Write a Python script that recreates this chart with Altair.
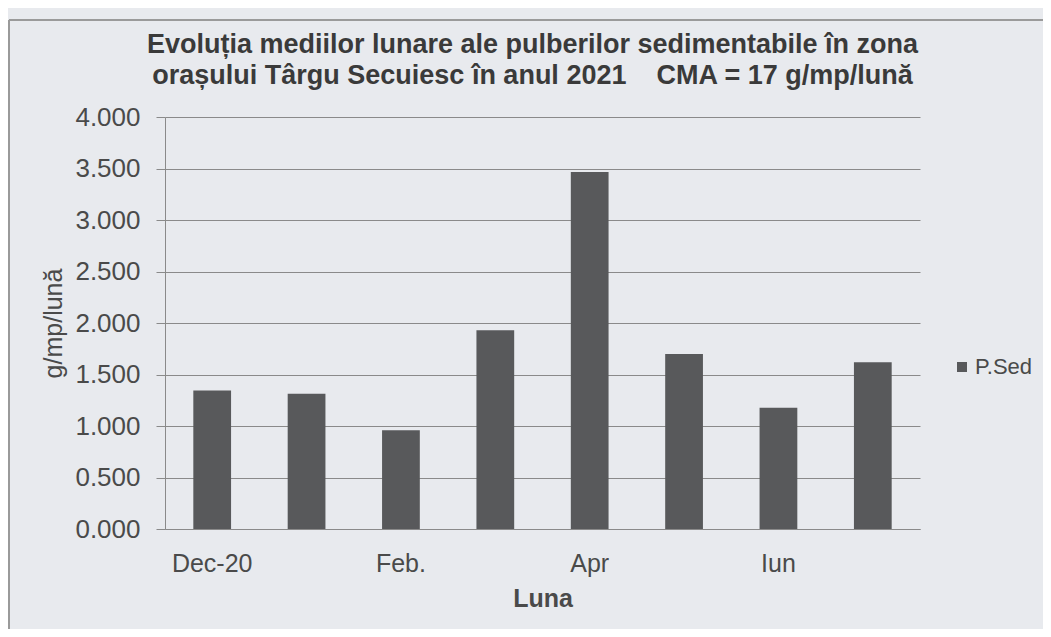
import altair as alt
import pandas as pd

months = ["Dec-20", "Ian.", "Feb.", "Mar.", "Apr", "Mai", "Iun", "Iul"]
shown_labels = ["Dec-20", "Feb.", "Apr", "Iun"]
values = [1.345, 1.313, 0.958, 1.930, 3.467, 1.700, 1.178, 1.620]
series = ["P.Sed"] * len(months)
y_ticks = [0.0, 0.5, 1.0, 1.5, 2.0, 2.5, 3.0, 3.5, 4.0]

df = pd.DataFrame({"Luna": months, "val": values, "serie": series})

BG = "#e8eaee"
TXT = "#4a4a4a"
FONT = "Liberation Sans"

label_expr = "indexof(" + str(shown_labels).replace("'", "\"") + ", datum.value) >= 0 ? datum.label : ''"

bars = alt.Chart(df).mark_bar(color="#58595b").encode(
    x=alt.X("Luna:N", sort=months,
            scale=alt.Scale(paddingInner=0.6, paddingOuter=0.3),
            axis=alt.Axis(title="Luna", labelAngle=0, labelExpr=label_expr,
                          labelFontSize=25, labelColor=TXT, labelFont=FONT,
                          labelPadding=22, ticks=False, domainColor="#8a8a8a",
                          titleFontSize=25, titleFontWeight="bold", titleColor=TXT,
                          titleFont=FONT, titlePadding=10)),
    y=alt.Y("val:Q", scale=alt.Scale(domain=[0, 4]),
            axis=alt.Axis(title="g/mp/lună", values=y_ticks, format=".3f",
                          labelFontSize=26, labelColor=TXT, labelFont=FONT,
                          tickSize=9, tickColor="#8a8a8a", labelPadding=16,
                          gridColor="#8a8a8a", domainColor="#8a8a8a",
                          titleFontSize=25, titleFontWeight="normal", titleColor=TXT,
                          titleFont=FONT, titlePadding=8)),
    color=alt.Color("serie:N", scale=alt.Scale(range=["#58595b"]),
                    legend=alt.Legend(title=None, orient="none", legendX=786, legendY=239,
                                      symbolType="square", symbolSize=100, labelOffset=2,
                                      labelFontSize=22, labelColor=TXT, labelFont=FONT)),
)

frame_left = alt.Chart(df).mark_rule(color="#9a9a9a", strokeWidth=1.5).encode(
    x=alt.value(-156), y=alt.value(-97), y2=alt.value(520))
frame_top = alt.Chart(df).mark_rule(color="#9a9a9a", strokeWidth=1.5).encode(
    x=alt.value(-156), x2=alt.value(886), y=alt.value(-97))

chart = alt.layer(bars, frame_left, frame_top).properties(
    width=755, height=412,
    title=alt.Title(
        ["Evoluția mediilor lunare ale pulberilor sedimentabile în zona",
         "orașului Târgu Secuiesc în anul 2021\u00a0\u00a0\u00a0\u00a0CMA = 17 g/mp/lună"],
        fontSize=27, fontWeight="bold", color="#3a3a3a", font=FONT,
        anchor="middle", frame="group", dx=-10, offset=-71, lineHeight=31),
    autosize=alt.AutoSizeParams(type="none"),
    padding={"left": 157, "top": 109, "right": 123, "bottom": 100},
    background=BG,
).configure_view(stroke=None).configure_axis(gridWidth=1)

chart.save("out.html", embed_options={"renderer": "svg", "actions": False})
